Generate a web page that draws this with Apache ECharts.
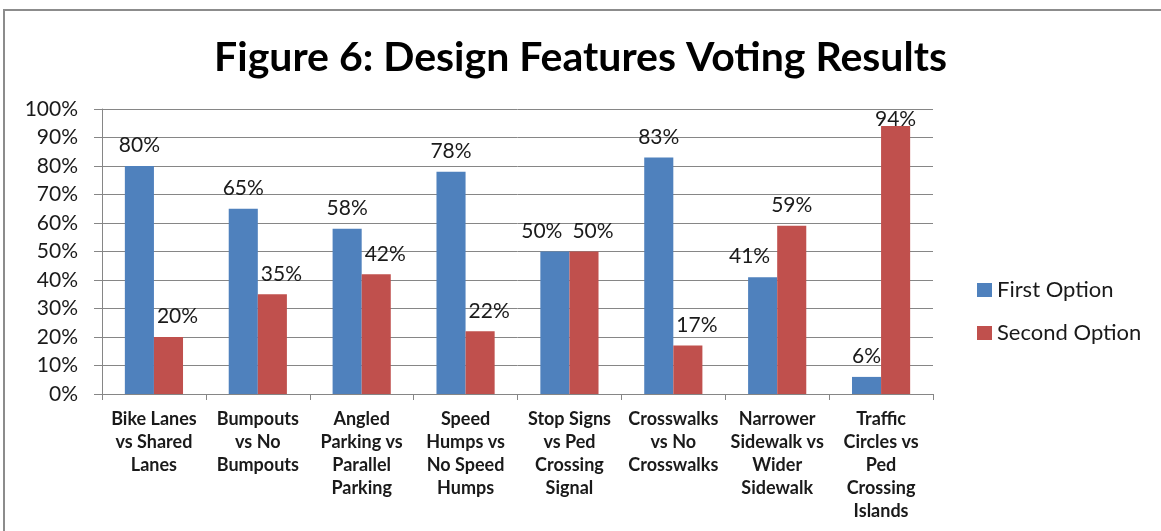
<!DOCTYPE html>
<html>
<head>
<meta charset="utf-8">
<script src="https://cdn.jsdelivr.net/npm/echarts@6/dist/echarts.min.js"></script>
<style>
  html, body { margin: 0; padding: 0; background: #fff; }
  #chart { width: 1161px; height: 531px; }
</style>
</head>
<body>
<div id="chart"></div>
<script>
const categories = [
  'Bike Lanes\nvs Shared\nLanes',
  'Bumpouts\nvs No\nBumpouts',
  'Angled\nParking vs\nParallel\nParking',
  'Speed\nHumps vs\nNo Speed\nHumps',
  'Stop Signs\nvs Ped\nCrossing\nSignal',
  'Crosswalks\nvs No\nCrosswalks',
  'Narrower\nSidewalk vs\nWider\nSidewalk',
  'Traffic\nCircles vs\nPed\nCrossing\nIslands'
];
const firstOption = [80, 65, 58, 78, 50, 83, 41, 6];
const secondOption = [20, 35, 42, 22, 50, 17, 59, 94];
const seriesNames = ['First Option', 'Second Option'];

const FONT = 'Lato, "Open Sans", sans-serif';
const TEXT = '#1a1a1a';

// Labels near the top of the value range are pulled down to stay inside the plot
function withLabels(values) {
  return values.map(v => v > 90 ? { value: v, label: { distance: -4 } } : v);
}

// Nudge a value label sideways when the neighbouring bar in the same
// category is at least as tall, so the text does not run into it.
function sideStep(params) {
  const i = params.dataIndex;
  const a = firstOption[i], b = secondOption[i];
  const lr = params.labelRect, r = params.rect;
  if (lr.width <= r.width + 4) return {};
  if (params.seriesIndex === 1 && a >= b) {
    return { dx: (r.x + 3) - lr.x };
  }
  if (params.seriesIndex === 0 && b >= a) {
    return { dx: (r.x + r.width - 7) - (lr.x + lr.width) };
  }
  return {};
}

const chart = echarts.init(document.getElementById('chart'), null, { renderer: 'canvas' });

const barLabel = {
  show: true,
  position: 'top',
  distance: 10,
  formatter: '{c}%',
  fontFamily: FONT,
  fontSize: 21,
  color: TEXT
};

chart.setOption({
  animation: false,
  backgroundColor: '#fff',
  title: {
    text: 'Figure 6: Design Features Voting Results',
    left: 'center',
    top: 32,
    textStyle: { fontFamily: FONT, fontWeight: 'bold', fontSize: 41, color: '#000' }
  },
  graphic: [{
    type: 'rect',
    shape: { x: 4, y: 10, width: 1200, height: 600 },
    style: { fill: 'none', stroke: '#8c8c8c', lineWidth: 2 },
    silent: true
  }],
  legend: {
    orient: 'vertical',
    left: 972,
    top: 274,
    itemWidth: 15,
    itemHeight: 14,
    itemGap: 21,
    icon: 'rect',
    textStyle: { fontFamily: FONT, fontSize: 22, color: TEXT, padding: [0, 0, 0, 0] },
    data: seriesNames
  },
  grid: { left: 102, right: 228, top: 109, bottom: 137 },
  xAxis: {
    type: 'category',
    data: categories,
    axisLine: { lineStyle: { color: '#868686', width: 1 } },
    axisTick: { show: true, length: 6, alignWithLabel: false, lineStyle: { color: '#868686' } },
    axisLabel: {
      interval: 0,
      margin: 14,
      fontFamily: FONT,
      fontWeight: 'bold',
      fontSize: 18,
      lineHeight: 23,
      color: TEXT
    }
  },
  yAxis: {
    type: 'value',
    min: 0,
    max: 100,
    interval: 10,
    axisLine: { show: true, lineStyle: { color: '#868686', width: 1 } },
    axisTick: { show: true, length: 8, lineStyle: { color: '#868686' } },
    splitLine: { lineStyle: { color: '#868686', width: 1 } },
    axisLabel: {
      formatter: '{value}%',
      margin: 24,
      fontFamily: FONT,
      fontSize: 21,
      color: TEXT
    }
  },
  series: [
    {
      name: seriesNames[0],
      type: 'bar',
      data: withLabels(firstOption),
      itemStyle: { color: '#4F81BD' },
      barGap: '0%',
      barCategoryGap: '44%',
      label: barLabel,
      labelLayout: sideStep
    },
    {
      name: seriesNames[1],
      type: 'bar',
      data: withLabels(secondOption),
      itemStyle: { color: '#C0504D' },
      label: barLabel,
      labelLayout: sideStep
    }
  ]
});
</script>
</body>
</html>
